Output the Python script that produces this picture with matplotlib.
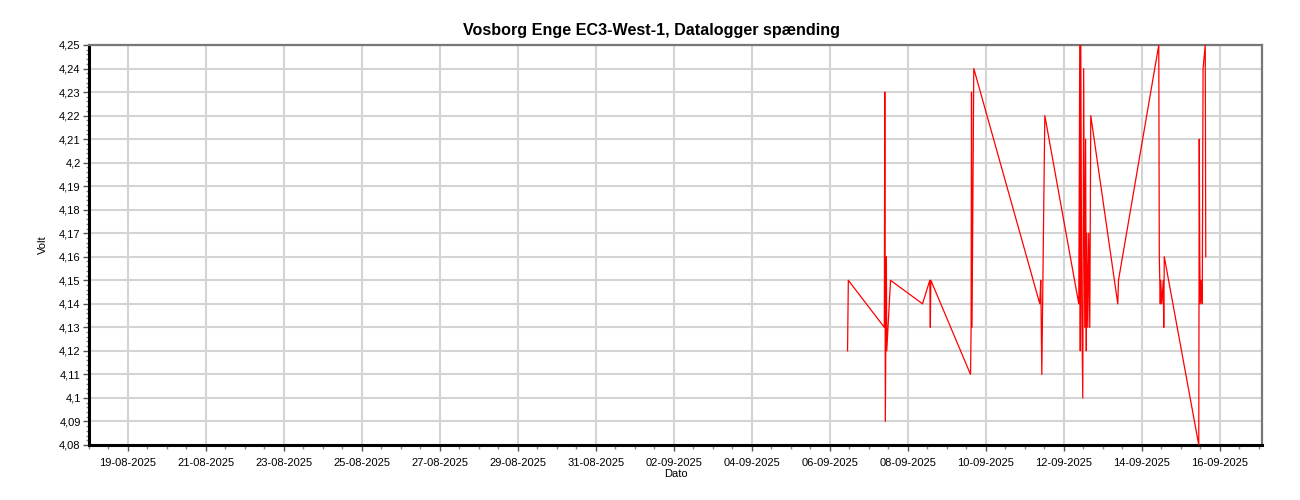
import matplotlib
matplotlib.use("Agg")
import matplotlib.pyplot as plt
import matplotlib.dates as mdates
from matplotlib.ticker import FuncFormatter, MultipleLocator
import pandas as pd

plt.rcParams['font.family'] = ['Liberation Sans', 'DejaVu Sans']

title = "Vosborg Enge EC3-West-1, Datalogger spænding"
x_label = "Dato"
y_label = "Volt"

times = [
    "2025-09-06 10:54", "2025-09-06 11:23", "2025-09-07 09:32", "2025-09-07 09:50",
    "2025-09-07 10:09", "2025-09-07 10:47", "2025-09-07 11:02", "2025-09-07 13:21",
    "2025-09-08 09:03", "2025-09-08 13:32", "2025-09-08 13:51", "2025-09-08 14:10",
    "2025-09-09 14:36", "2025-09-09 14:57", "2025-09-09 15:12", "2025-09-09 15:30",
    "2025-09-09 16:36", "2025-09-11 09:14", "2025-09-11 09:50", "2025-09-11 10:28",
    "2025-09-11 12:19", "2025-09-12 09:14", "2025-09-12 09:50", "2025-09-12 10:09",
    "2025-09-12 10:28", "2025-09-12 11:02", "2025-09-12 11:41", "2025-09-12 12:14",
    "2025-09-12 12:55", "2025-09-12 13:26", "2025-09-12 13:51", "2025-09-12 14:10",
    "2025-09-12 14:46", "2025-09-12 15:22", "2025-09-12 16:00", "2025-09-12 16:36",
    "2025-09-13 09:14", "2025-09-13 09:40", "2025-09-14 10:28", "2025-09-14 10:47",
    "2025-09-14 11:23", "2025-09-14 11:41", "2025-09-14 12:19", "2025-09-14 13:13",
    "2025-09-14 13:32", "2025-09-14 13:51", "2025-09-15 11:05", "2025-09-15 11:23",
    "2025-09-15 11:41", "2025-09-15 12:00", "2025-09-15 12:37", "2025-09-15 13:13",
    "2025-09-15 13:44", "2025-09-15 15:04", "2025-09-15 15:23",
]
volts = [
    4.12, 4.15, 4.13, 4.23,
    4.09, 4.16, 4.12, 4.15,
    4.14, 4.15, 4.13, 4.15,
    4.11, 4.13, 4.23, 4.13,
    4.24, 4.14, 4.15, 4.11,
    4.22, 4.14, 4.25, 4.12,
    4.25, 4.14, 4.10, 4.24,
    4.13, 4.21, 4.12, 4.17,
    4.13, 4.17, 4.13, 4.22,
    4.14, 4.15, 4.25, 4.16,
    4.14, 4.15, 4.14, 4.15,
    4.13, 4.16, 4.08, 4.21,
    4.16, 4.14, 4.15, 4.14,
    4.24, 4.25, 4.16,
]

x_start = "2025-08-18 00:00"
x_end = "2025-09-17 02:00"
y_min, y_max = 4.08, 4.25

t = pd.to_datetime(times)

fig = plt.figure(figsize=(13, 5), dpi=100)
ax = fig.add_axes([89/1300, 1-445/500, (1262-89)/1300, 400/500])

ax.plot(t, volts, color="#ff0000", lw=0.9, zorder=3)

ax.set_xlim(pd.Timestamp(x_start), pd.Timestamp(x_end))
ax.set_ylim(y_min, y_max)

major_days = pd.date_range("2025-08-19", "2025-09-16", freq="2D")
ax.set_xticks(major_days)
ax.xaxis.set_major_formatter(mdates.DateFormatter("%d-%m-%Y"))
ax.xaxis.set_minor_locator(mdates.HourLocator(byhour=[0, 12]))

ax.yaxis.set_major_locator(MultipleLocator(0.01))
ax.yaxis.set_minor_locator(MultipleLocator(0.002))

def yfmt(v, pos):
    s = f"{v:.2f}".rstrip("0").rstrip(".")
    return s.replace(".", ",")
ax.yaxis.set_major_formatter(FuncFormatter(yfmt))

ax.grid(True, which="major", color="#d4d4d4", lw=1.5, zorder=0)
ax.set_axisbelow(True)

ax.tick_params(axis="both", which="major", labelsize=8, length=4, width=1, color="#555555")
ax.tick_params(axis="y", which="major", pad=2)
ax.tick_params(axis="x", which="major", pad=5)
ax.tick_params(axis="y", which="minor", length=2, width=1, color="#888888")
ax.tick_params(axis="x", which="minor", length=3, width=1, color="#888888")

for side in ["left", "bottom"]:
    ax.spines[side].set_linewidth(2.2)
    ax.spines[side].set_color("black")
for side in ["top", "right"]:
    ax.spines[side].set_linewidth(1.6)
    ax.spines[side].set_color("#777777")

fig.text(0.5015, 1 - 30/500, title, fontsize=11.6, fontweight="bold", ha="center", va="center")
ax.set_xlabel(x_label, fontsize=8, labelpad=1)
ax.set_ylabel(y_label, fontsize=8, labelpad=8)

fig.savefig("out.png", dpi=100)
